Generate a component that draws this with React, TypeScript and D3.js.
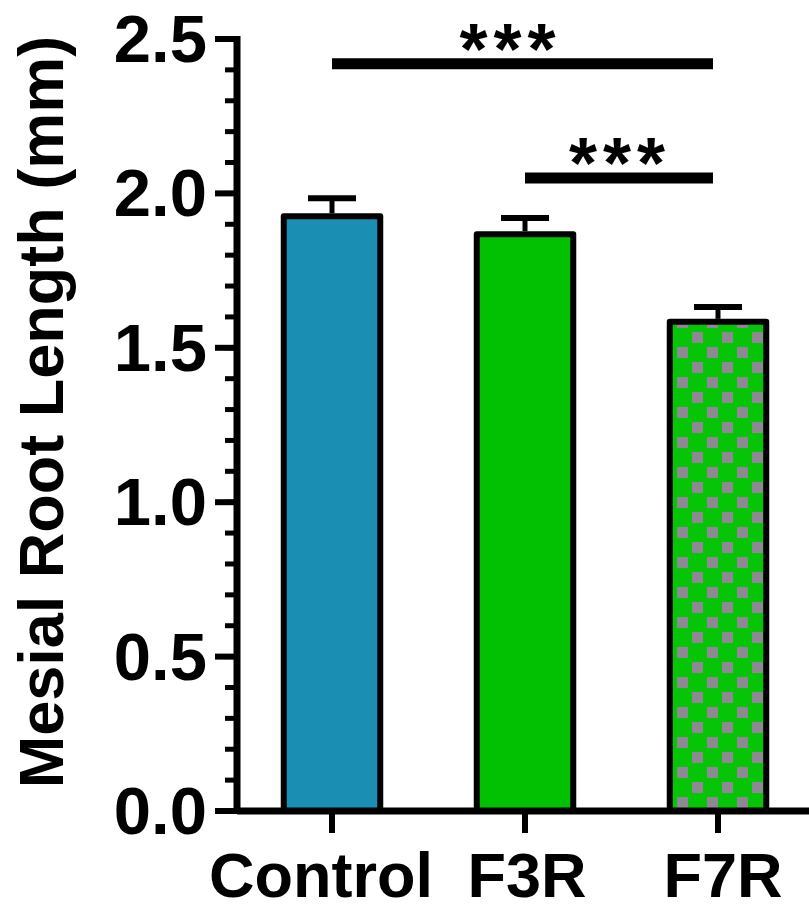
import React, { useEffect, useRef } from 'react';
import * as d3 from 'd3';

// chart values
const categories = ['Control', 'F3R', 'F7R'];
const means = [1.926, 1.868, 1.584];
const sems = [0.058, 0.052, 0.048];
const yTicks = [0, 0.5, 1.0, 1.5, 2.0, 2.5];
const comparisons = [
    { from: 'Control', to: 'F7R', label: '***', level: 2.42 },
    { from: 'F3R', to: 'F7R', label: '***', level: 2.05 },
];

const FONT = '"Liberation Sans", Arial, Helvetica, sans-serif';

function App() {
    const ref = useRef<SVGSVGElement>(null);

    useEffect(() => {
        const svg = d3.select(ref.current);
        svg.selectAll('*').remove();

        const width = 809;
        const height = 910;
        const axisX = 237;
        const axisY = 811;

        const x = d3.scaleBand<string>()
            .domain(categories)
            .range([235.5, 814.5])
            .paddingInner(0.5)
            .paddingOuter(0.25);

        const y = d3.scaleLinear()
            .domain([0, 2.5])
            .range([axisY, 39]);

        // checkerboard fill for F7R
        const defs = svg.append('defs');
        const pat = defs.append('pattern')
            .attr('id', 'checker')
            .attr('patternUnits', 'userSpaceOnUse')
            .attr('width', 30)
            .attr('height', 30);
        pat.append('rect').attr('width', 30).attr('height', 30).attr('fill', '#06c406');
        pat.append('rect').attr('x', 2).attr('y', 2).attr('width', 11).attr('height', 11).attr('fill', '#8e8794');
        pat.append('rect').attr('x', 17).attr('y', 17).attr('width', 11).attr('height', 11).attr('fill', '#8e8794');

        const fills = ['#1b8fb3', '#02c102', 'url(#checker)'];

        svg.attr('width', width).attr('height', height);
        const g = svg.append('g');

        // bars
        g.selectAll('.bar')
            .data(categories)
            .enter().append('rect')
            .attr('class', 'bar')
            .attr('x', d => x(d)!)
            .attr('y', (d, i) => y(means[i]))
            .attr('width', x.bandwidth())
            .attr('height', (d, i) => axisY - y(means[i]))
            .attr('fill', (d, i) => fills[i])
            .attr('stroke', '#000')
            .attr('stroke-width', 6)
            .attr('stroke-linejoin', 'round');

        // error bars (upper only)
        const capW = 48;
        categories.forEach((c, i) => {
            const cx = x(c)! + x.bandwidth() / 2;
            g.append('line')
                .attr('x1', cx).attr('x2', cx)
                .attr('y1', y(means[i]) - 3).attr('y2', y(means[i] + sems[i]))
                .attr('stroke', '#000').attr('stroke-width', 5);
            g.append('line')
                .attr('x1', cx - capW / 2).attr('x2', cx + capW / 2)
                .attr('y1', y(means[i] + sems[i])).attr('y2', y(means[i] + sems[i]))
                .attr('stroke', '#000').attr('stroke-width', 6);
        });

        // y axis: major and minor ticks
        const minor = d3.range(0, 2.5001, 0.1).map(v => +v.toFixed(1));
        g.selectAll('.minor')
            .data(minor)
            .enter().append('line')
            .attr('x1', axisX - 12).attr('x2', axisX)
            .attr('y1', d => y(d)).attr('y2', d => y(d))
            .attr('stroke', '#000').attr('stroke-width', 5);
        g.selectAll('.major')
            .data(yTicks)
            .enter().append('line')
            .attr('x1', axisX - 22).attr('x2', axisX)
            .attr('y1', d => y(d)).attr('y2', d => y(d))
            .attr('stroke', '#000').attr('stroke-width', 6);
        g.append('line')
            .attr('x1', axisX).attr('x2', axisX)
            .attr('y1', y(2.5) - 3).attr('y2', axisY + 3)
            .attr('stroke', '#000').attr('stroke-width', 7);
        g.selectAll('.ylab')
            .data(yTicks)
            .enter().append('text')
            .attr('x', 207)
            .attr('y', d => y(d) + 23)
            .attr('text-anchor', 'end')
            .attr('font-family', FONT)
            .attr('font-weight', 'bold')
            .attr('font-size', 67)
            .text(d => d.toFixed(1));

        // x axis
        g.append('line')
            .attr('x1', axisX).attr('x2', width)
            .attr('y1', axisY).attr('y2', axisY)
            .attr('stroke', '#000').attr('stroke-width', 7);
        g.selectAll('.xtick')
            .data(categories)
            .enter().append('line')
            .attr('x1', d => x(d)! + x.bandwidth() / 2)
            .attr('x2', d => x(d)! + x.bandwidth() / 2)
            .attr('y1', axisY).attr('y2', axisY + 22)
            .attr('stroke', '#000').attr('stroke-width', 6);
        const labelShift = [-11, 2, 5];
        g.selectAll('.xlab')
            .data(categories)
            .enter().append('text')
            .attr('x', (d, i) => x(d)! + x.bandwidth() / 2 + labelShift[i])
            .attr('y', 897)
            .attr('text-anchor', 'middle')
            .attr('font-family', FONT)
            .attr('font-weight', 'bold')
            .attr('font-size', 63)
            .text(d => d);

        // y title
        g.append('text')
            .attr('transform', 'translate(63, 412) rotate(-90)')
            .attr('text-anchor', 'middle')
            .attr('font-family', FONT)
            .attr('font-weight', 'bold')
            .attr('font-size', 63)
            .text('Mesial Root Length (mm)');

        // significance brackets
        const starShift = [-15, -2];
        comparisons.forEach((cmp, i) => {
            const x1 = x(cmp.from)! + x.bandwidth() / 2;
            const x2 = x(cmp.to)! + x.bandwidth() / 2 - 5;
            const ly = y(cmp.level);
            g.append('line')
                .attr('x1', x1).attr('x2', x2)
                .attr('y1', ly).attr('y2', ly)
                .attr('stroke', '#000').attr('stroke-width', 11);
            g.append('text')
                .attr('x', (x1 + x2) / 2 + starShift[i] + 3)
                .attr('y', ly + 10)
                .attr('text-anchor', 'middle')
                .attr('font-family', FONT)
                .attr('font-weight', 'bold')
                .attr('font-size', 72)
                .attr('letter-spacing', 6)
                .text(cmp.label);
        });
    }, []);

    return <svg ref={ref} style={{ display: 'block', position: 'absolute', left: 0, top: 0 }}></svg>;
}

export default App;
